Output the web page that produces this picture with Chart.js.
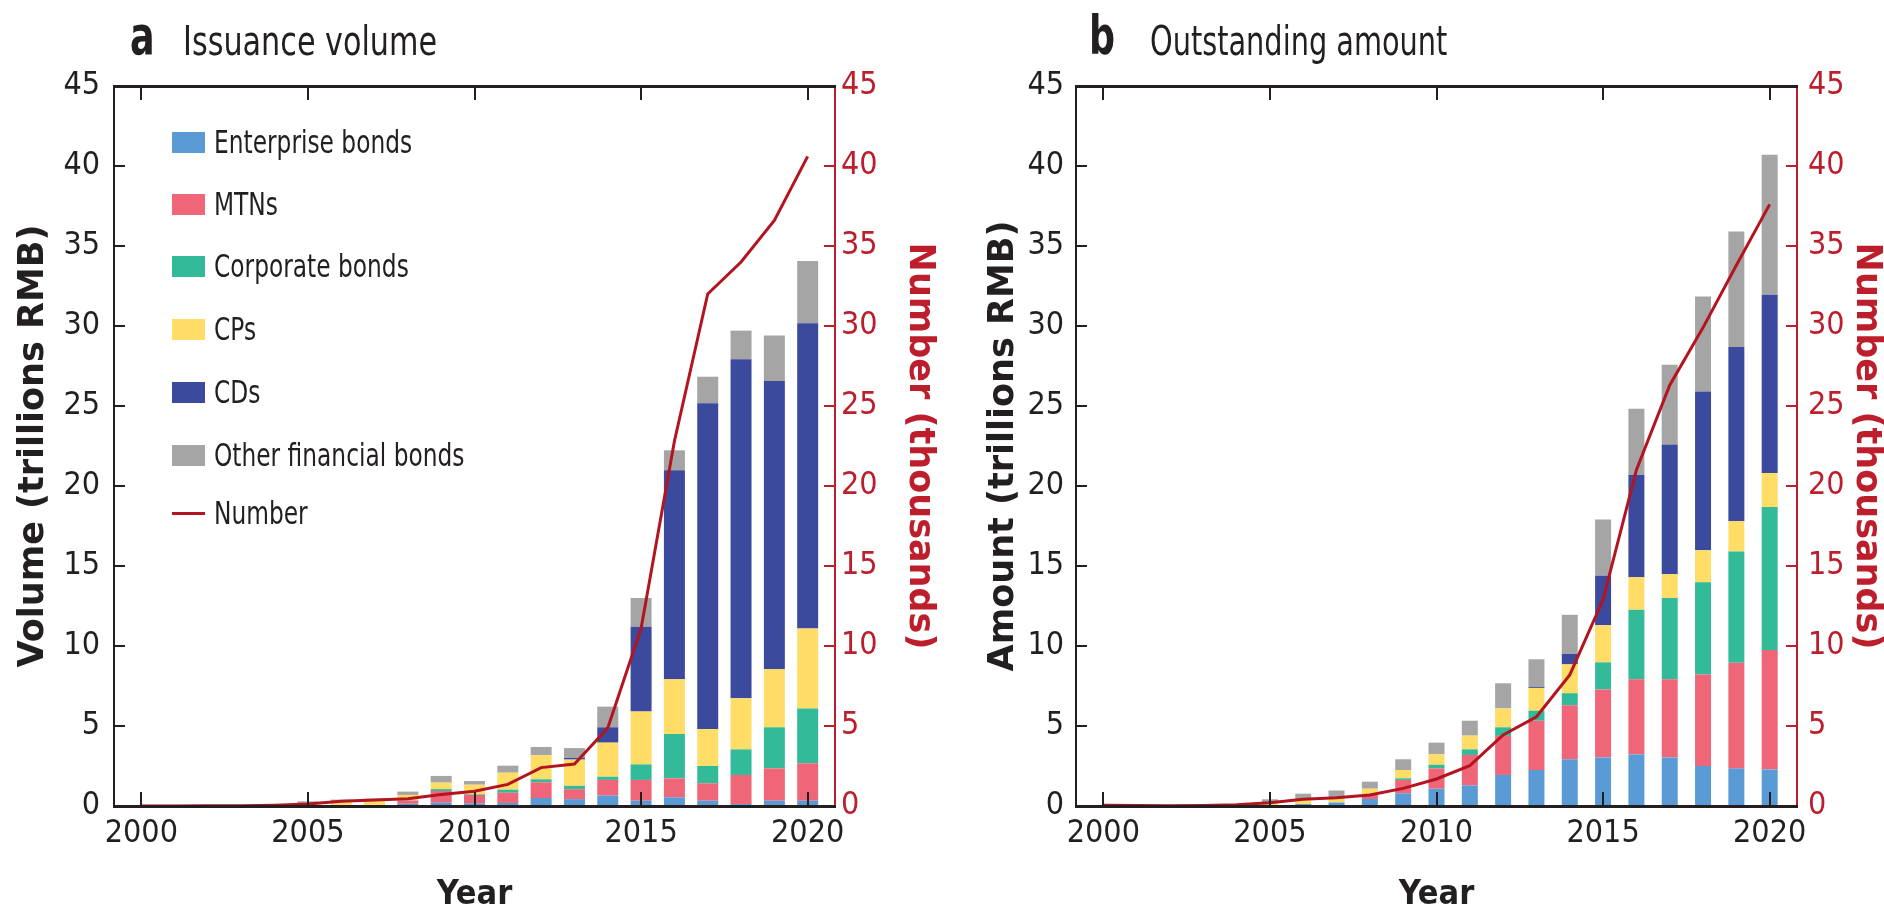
<!DOCTYPE html>
<html>
<head>
<meta charset="utf-8">
<script src="https://cdn.jsdelivr.net/npm/chart.js@4.4.1/dist/chart.umd.min.js"></script>
<style>
  html, body { margin: 0; padding: 0; background: #fff; }
  body { width: 1884px; height: 913px; position: relative; overflow: hidden;
         font-family: 'Liberation Sans Narrow', 'DejaVu Sans Condensed', sans-serif; color: #231f20; }
  canvas { position: absolute; top: 0; }
  #chartA { left: 0; }
  #chartB { left: 942px; }
  .abs { position: absolute; white-space: nowrap; line-height: 1; transform-origin: 0 0; }
  .letter { font-size: 54px; font-weight: bold; transform: scaleX(0.75); }
  .ptitle { font-size: 40px; }
  .swatch { position: absolute; left: 172px; width: 33px; height: 21px; }
  .swatch.line { height: 3px; }
  .ltext { position: absolute; left: 214px; font-size: 32px; line-height: 32px; white-space: nowrap;
           transform: scaleX(0.81); transform-origin: 0 0; }
</style>
</head>
<body>
<canvas id="chartA" width="942" height="913"></canvas>
<canvas id="chartB" width="942" height="913"></canvas>

<div class="abs letter" style="left:130px; top:9px;">a</div>
<div class="abs ptitle" style="left:183px; top:21px; transform: scaleX(0.84);">Issuance volume</div>
<div class="abs letter" style="left:1089px; top:9px;">b</div>
<div class="abs ptitle" style="left:1150px; top:21px; transform: scaleX(0.8);">Outstanding amount</div>

<div id="legend"></div>

<script>
// years on the x axis
const years = [2000, 2001, 2002, 2003, 2004, 2005, 2006, 2007, 2008, 2009, 2010,
               2011, 2012, 2013, 2014, 2015, 2016, 2017, 2018, 2019, 2020];

// panel a: issuance volume (trillions RMB)
const issueEnterprise = [0, 0, 0, 0, 0, 0.04, 0.04, 0.04, 0.14, 0.21, 0.17, 0.19, 0.5, 0.43, 0.65, 0.33, 0.54, 0.33, 0.12, 0.33, 0.33];
const issueMTN        = [0, 0, 0, 0, 0, 0, 0, 0, 0.2, 0.73, 0.52, 0.64, 0.98, 0.62, 0.98, 1.3, 1.19, 1.09, 1.82, 2.02, 2.34];
const issueCorporate  = [0, 0, 0, 0, 0, 0, 0, 0, 0.02, 0.12, 0.04, 0.19, 0.19, 0.21, 0.2, 0.97, 2.77, 1.08, 1.6, 2.57, 3.43];
const issueCP         = [0, 0, 0, 0, 0, 0.1, 0.22, 0.3, 0.33, 0.4, 0.6, 1.06, 1.5, 1.64, 2.13, 3.3, 3.42, 2.31, 3.19, 3.62, 5.0];
const issueCD         = [0, 0, 0, 0, 0, 0, 0, 0, 0, 0, 0, 0, 0, 0.1, 0.96, 5.3, 13.06, 20.36, 21.19, 18.02, 19.07];
const issueOther      = [0, 0, 0, 0, 0, 0.15, 0.14, 0.12, 0.21, 0.42, 0.23, 0.44, 0.52, 0.62, 1.29, 1.8, 1.25, 1.66, 1.79, 2.84, 3.89];
const issueNumber     = [0, 0, 0.01, 0.02, 0.05, 0.12, 0.3, 0.38, 0.45, 0.72, 0.92, 1.35, 2.4, 2.62, 4.88, 11.1, 22.8, 32.0, 34.0, 36.6, 40.6];

// panel b: outstanding amount (trillions RMB)
const outEnterprise = [0, 0, 0, 0, 0, 0.06, 0.12, 0.22, 0.44, 0.79, 1.08, 1.29, 1.94, 2.25, 2.92, 3.04, 3.23, 3.04, 2.5, 2.35, 2.29];
const outMTN        = [0, 0, 0, 0, 0, 0, 0, 0, 0.25, 0.84, 1.27, 1.9, 2.44, 3.08, 3.38, 4.24, 4.69, 4.88, 5.72, 6.6, 7.46];
const outCorporate  = [0, 0, 0, 0, 0, 0, 0, 0, 0, 0.1, 0.23, 0.35, 0.54, 0.63, 0.75, 1.7, 4.35, 5.08, 5.76, 6.95, 8.93];
const outCP         = [0, 0, 0, 0, 0, 0.1, 0.25, 0.33, 0.39, 0.52, 0.65, 0.86, 1.18, 1.42, 1.8, 2.32, 2.03, 1.49, 2.0, 1.9, 2.13];
const outCD         = [0, 0, 0, 0, 0, 0, 0, 0, 0, 0, 0, 0, 0, 0.06, 0.65, 3.1, 6.38, 8.11, 9.92, 10.88, 11.14];
const outOther      = [0, 0, 0, 0, 0, 0.26, 0.4, 0.42, 0.44, 0.67, 0.73, 0.93, 1.57, 1.73, 2.45, 3.5, 4.15, 4.98, 5.95, 7.22, 8.75];
const outNumber     = [0.05, 0.03, 0.02, 0.03, 0.08, 0.21, 0.42, 0.52, 0.69, 1.1, 1.69, 2.52, 4.44, 5.58, 8.19, 12.9, 21.0, 26.3, 29.9, 33.8, 37.6];

const seriesNames  = ['Enterprise bonds', 'MTNs', 'Corporate bonds', 'CPs', 'CDs', 'Other financial bonds'];
const seriesColors = ['#5b9bd5', '#ee6677', '#33bb99', '#ffdd66', '#3c4a9e', '#a5a5a5'];
const lineColor = '#b3141f';
const axisRed = '#bd1e2c';
const ink = '#231f20';
const NARROW = "'Liberation Sans Narrow', 'DejaVu Sans Condensed', sans-serif";
const WIDE = "'DejaVu Sans', Verdana, sans-serif";
const X_MIN = 1999.18, X_MAX = 2020.82;

function toPoints(arr) {
  return years.map((yr, i) => ({ x: yr, y: arr[i] }));
}

function buildPanel(canvasId, stacks, numbers, cfg) {
  const datasets = stacks.map((arr, i) => ({
    type: 'bar',
    label: seriesNames[i],
    data: toPoints(arr),
    backgroundColor: seriesColors[i],
    borderWidth: 0,
    barPercentage: cfg.barPct,
    categoryPercentage: 1,
    xAxisID: 'x',
    yAxisID: 'y',
    order: 2
  }));
  datasets.push({
    type: 'line',
    label: 'Number',
    data: toPoints(numbers),
    borderColor: lineColor,
    borderWidth: 3,
    pointRadius: 0,
    tension: 0,
    fill: false,
    xAxisID: 'x',
    yAxisID: 'y1',
    order: 1
  });

  const tickFont = { family: NARROW, size: 32 };

  return new Chart(document.getElementById(canvasId), {
    type: 'bar',
    data: { datasets },
    options: {
      responsive: false,
      animation: false,
      devicePixelRatio: 1,
      layout: { padding: 0 },
      plugins: { legend: { display: false }, tooltip: { enabled: false } },
      scales: {
        x: {
          type: 'linear', position: 'bottom', min: X_MIN, max: X_MAX, stacked: true, offset: false,
          afterFit: s => { s.height = 107; },
          // tick marks point inward and sit over the bars
          grid: { offset: false, drawOnChartArea: false, tickLength: -14, color: ink, lineWidth: 2, z: 1 },
          border: { color: ink, width: 3, z: 2 },
          ticks: { stepSize: 5, includeBounds: false, autoSkip: false, maxRotation: 0,
                   padding: 22, color: ink, font: tickFont, callback: v => String(v) },
          title: { display: true, text: 'Year', color: ink,
                   font: { family: NARROW, size: 34, weight: 'bold', lineHeight: 1 },
                   padding: { top: 0, bottom: 1 } }
        },
        xTop: {
          type: 'linear', position: 'top', min: X_MIN, max: X_MAX, offset: false,
          afterFit: s => { s.height = 86; },
          grid: { offset: false, drawOnChartArea: false, tickLength: -14, color: ink, lineWidth: 2, z: 1 },
          border: { color: ink, width: 3, z: 2 },
          ticks: { display: false, stepSize: 5, includeBounds: false }
        },
        y: {
          type: 'linear', position: 'left', min: 0, max: 45, stacked: true,
          afterFit: s => { s.width = cfg.leftW; },
          grid: { drawOnChartArea: false, tickLength: -11, color: ink, lineWidth: 2 },
          border: { color: ink, width: 2 },
          ticks: { stepSize: 5, padding: cfg.leftTickPad, color: ink, font: tickFont },
          title: { display: true, text: cfg.leftTitle, color: ink,
                   font: { family: WIDE, size: 35, weight: 'bold', lineHeight: 1 },
                   padding: { top: cfg.leftTitlePad, bottom: 0 } }
        },
        y1: {
          type: 'linear', position: 'right', min: 0, max: 45, stacked: false,
          afterFit: s => { s.width = cfg.rightW; },
          grid: { drawOnChartArea: false, tickLength: -11, color: axisRed, lineWidth: 2 },
          border: { color: axisRed, width: 2 },
          ticks: { stepSize: 5, padding: cfg.rightTickPad, color: axisRed, font: tickFont },
          title: { display: true, text: 'Number (thousands)', color: axisRed,
                   font: { family: WIDE, size: 35, weight: 'bold', lineHeight: 1 },
                   padding: { top: cfg.rightTitlePad, bottom: 0 } }
        }
      }
    }
  });
}

buildPanel('chartA',
  [issueEnterprise, issueMTN, issueCorporate, issueCP, issueCD, issueOther], issueNumber,
  { leftW: 114, rightW: 107, barPct: 0.63, leftTitle: 'Volume (trillions RMB)',
    leftTickPad: 25, rightTickPad: 17, leftTitlePad: 16, rightTitlePad: 5 });

buildPanel('chartB',
  [outEnterprise, outMTN, outCorporate, outCP, outCD, outOther], outNumber,
  { leftW: 134, rightW: 87, barPct: 0.48, leftTitle: 'Amount (trillions RMB)',
    leftTickPad: 23, rightTickPad: 22, leftTitlePad: 44, rightTitlePad: 0 });

// legend inside panel a
const legendY = [142, 204, 266, 329, 392, 455, 513];
const legend = document.getElementById('legend');
seriesNames.concat(['Number']).forEach((name, i) => {
  const sw = document.createElement('div');
  const isLine = name === 'Number';
  sw.className = isLine ? 'swatch line' : 'swatch';
  sw.style.background = isLine ? lineColor : seriesColors[i];
  sw.style.top = (legendY[i] - (isLine ? 1.5 : 10.5)) + 'px';
  legend.appendChild(sw);
  const tx = document.createElement('div');
  tx.className = 'ltext';
  tx.textContent = name;
  tx.style.top = (legendY[i] - 16) + 'px';
  legend.appendChild(tx);
});
</script>
</body>
</html>
